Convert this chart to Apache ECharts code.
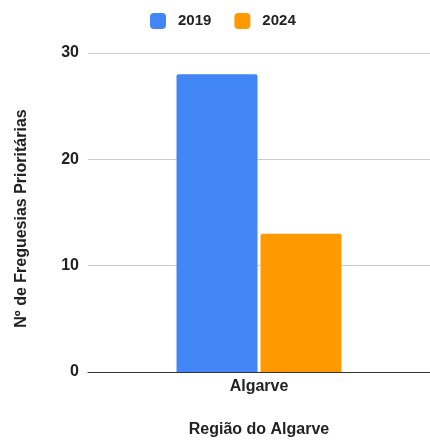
<!DOCTYPE html>
<html>
<head>
<meta charset="utf-8">
<script src="https://cdn.jsdelivr.net/npm/echarts@6/dist/echarts.min.js"></script>
<style>
  html, body { margin: 0; padding: 0; background: #fff; }
  #chart { width: 430px; height: 443px; }
</style>
</head>
<body>
<div id="chart"></div>
<script>
// Priority parishes in the Algarve region, 2019 vs 2024
const categories = ['Algarve'];
const series2019 = [28];
const series2024 = [13];
const yTicks = [0, 10, 20, 30];
const yTitle = 'Nº de Freguesias Prioritárias';
const xTitle = 'Região do Algarve';

const FONT = '"Liberation Sans", Arial, sans-serif';
const TEXT = '#222';

const chart = echarts.init(document.getElementById('chart'));
chart.setOption({
  animation: false,
  textStyle: { fontFamily: FONT },
  legend: {
    top: 8,
    left: 145,
    itemWidth: 16,
    itemHeight: 16,
    itemGap: 23,
    icon: 'roundRect',
    textStyle: { fontFamily: FONT, fontWeight: 'bold', fontSize: 15, color: TEXT, padding: [0, 0, 0, 7] },
    data: ['2019', '2024']
  },
  grid: { left: 88, right: -9, top: 53, height: 325, containLabel: false },
  xAxis: {
    type: 'category',
    data: categories,
    name: xTitle,
    nameLocation: 'middle',
    nameGap: 50,
    nameTextStyle: { fontFamily: FONT, fontWeight: 'bold', fontSize: 16, color: TEXT },
    axisLine: { lineStyle: { color: '#333', width: 1 } },
    axisTick: { show: false },
    axisLabel: { fontFamily: FONT, fontWeight: 'bold', fontSize: 16, color: TEXT, margin: 7 }
  },
  yAxis: {
    type: 'value',
    min: yTicks[0],
    max: yTicks[yTicks.length - 1],
    interval: 10,
    name: yTitle,
    nameLocation: 'middle',
    nameGap: 58,
    nameRotate: 90,
    // extra right padding nudges the rotated title slightly downward
    nameTextStyle: { fontFamily: FONT, fontWeight: 'bold', fontSize: 16, color: TEXT, padding: [0, 12, 0, 0] },
    axisLine: { show: false },
    axisTick: { show: false },
    axisLabel: { fontFamily: FONT, fontWeight: 'bold', fontSize: 16, color: TEXT, margin: 9 },
    splitLine: { lineStyle: { color: '#ccc', width: 1 } }
  },
  series: [
    {
      name: '2019',
      type: 'bar',
      data: series2019,
      barWidth: 81,
      barGap: '3.7%',
      itemStyle: { color: '#4285F4', borderRadius: [2, 2, 0, 0] }
    },
    {
      name: '2024',
      type: 'bar',
      data: series2024,
      barWidth: 81,
      itemStyle: { color: '#FF9900', borderRadius: [2, 2, 0, 0] }
    }
  ]
});
</script>
</body>
</html>
